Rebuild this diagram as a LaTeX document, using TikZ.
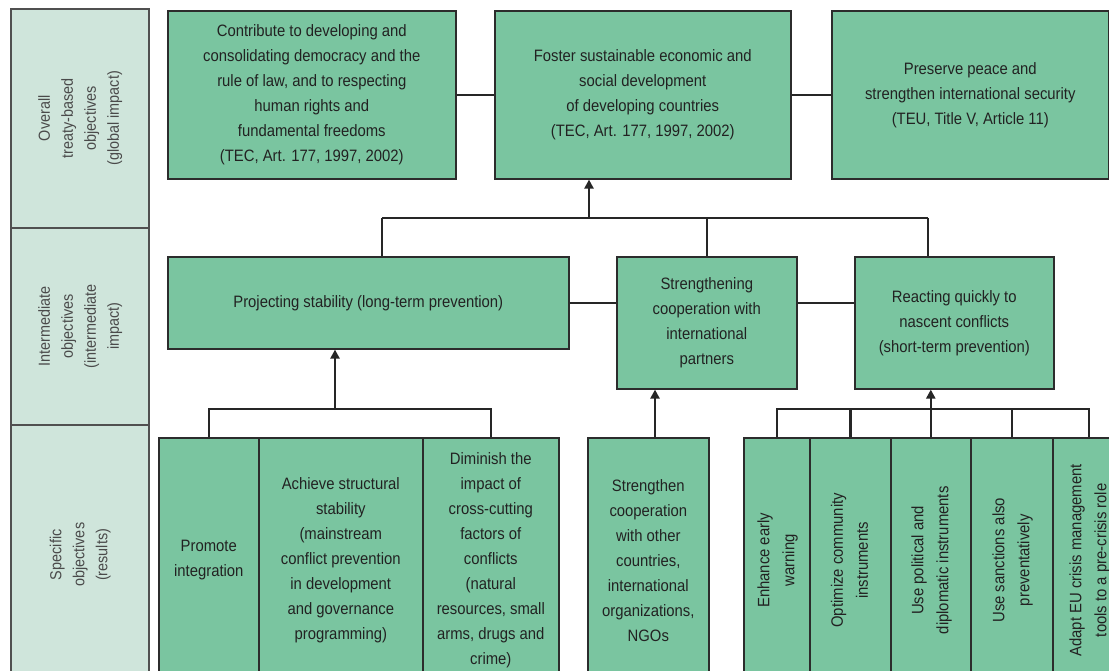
\documentclass[tikz,border=0pt]{standalone}
\usepackage{fontspec}
\setmainfont{Liberation Sans}[FakeStretch=0.9]
\usetikzlibrary{arrows.meta}
\definecolor{boxgreen}{HTML}{7AC5A0}
\definecolor{lightgreen}{HTML}{CFE5DB}
\definecolor{boxline}{HTML}{2C2C2C}
\definecolor{sideline}{HTML}{505050}
\definecolor{txt}{HTML}{222222}
\definecolor{sidetxt}{HTML}{4A4A4A}
\newcommand{\rotlines}[1]{\rotatebox{90}{\begin{tabular}{@{}c@{}}#1\end{tabular}}}
\begin{document}
\begin{tikzpicture}[x=1pt,y=-1pt,
  box/.style={draw=boxline, line width=1.6pt, fill=boxgreen, anchor=north west, inner sep=0pt, text=txt, font=\fontsize{16.5}{25}\selectfont, align=center},
  side/.style={draw=sideline, line width=1.6pt, fill=lightgreen, anchor=north west, inner sep=0pt, text=sidetxt, font=\fontsize{16}{23}\selectfont, align=center},
  conn/.style={line width=2.4pt, draw=black!85},
  arr/.style={conn, -{Triangle[length=9pt,width=9pt]}}]
\useasboundingbox (0,0) rectangle (1109,671);
\clip (0,0) rectangle (1109,671);
\fill[white] (0,0) rectangle (1109,671);

% left column
\node[side, minimum width=138, minimum height=219] (l1) at (10,8) {\rotlines{Overall\\treaty-based\\objectives\\(global impact)}};
\node[side, minimum width=138, minimum height=197] (l2) at (10,227) {\rotlines{Intermediate\\objectives\\(intermediate\\impact)}};
\node[side, minimum width=138, minimum height=260] (l3) at (10,424) {\rotlines{Specific\\objectives\\(results)}};

% top row
\node[box, minimum width=288, minimum height=168] (t1) at (167,10) {Contribute to developing and\\consolidating democracy and the\\rule of law, and to respecting\\human rights and\\fundamental freedoms\\(TEC, Art. 177, 1997, 2002)};
\node[box, minimum width=296, minimum height=168] (t2) at (494,10) {Foster sustainable economic and\\social development\\of developing countries\\(TEC, Art. 177, 1997, 2002)};
\node[box, minimum width=277, minimum height=168] (t3) at (831,10) {Preserve peace and\\strengthen international security\\(TEU, Title V, Article 11)};
\draw[conn] (t1.east) -- (t2.west);
\draw[conn] (t2.east) -- (t3.west);

% middle row
\node[box, minimum width=401, minimum height=92] (m1) at (167,256) {Projecting stability (long-term prevention)};
\node[box, minimum width=180, minimum height=132] (m2) at (616,256) {Strengthening\\cooperation with\\international\\partners};
\node[box, minimum width=199, minimum height=132] (m3) at (854,256) {Reacting quickly to\\nascent conflicts\\(short-term prevention)};
\draw[conn] (m1.east) -- (m1.east -| m2.west);
\draw[conn] (m2.east |- m1.east) -- (m3.west |- m1.east);

% top bus
\coordinate (tbl) at (382,218);
\coordinate (tbr) at (928,218);
\coordinate (tba) at (589,218);
\draw[conn] (tbl) -- (tbr);
\draw[conn] (tbl) -- (tbl |- m1.north);
\draw[conn] (m2.north |- tbl) -- (m2.north);
\draw[conn] (tbr) -- (tbr |- m3.north);
\draw[arr] (tba) -- (tba |- t2.south);

% bottom row
\node[box, minimum width=100, minimum height=245] (b1) at (158,437) {Promote\\integration};
\node[box, minimum width=164, minimum height=245] (b2) at (258,437) {Achieve structural\\stability\\(mainstream\\conflict prevention\\in development\\and governance\\programming)};
\node[box, minimum width=136, minimum height=245] (b3) at (422,437) {Diminish the\\impact of\\cross-cutting\\factors of\\conflicts\\(natural\\resources, small\\arms, drugs and\\crime)};
\node[box, minimum width=121, minimum height=245] (b4) at (587,437) {Strengthen\\cooperation\\with other\\countries,\\international\\organizations,\\NGOs};
\node[box, minimum width=66, minimum height=245] (b5) at (743,437) {\rotlines{Enhance early\\warning}};
\node[box, minimum width=81, minimum height=245] (b6) at (809,437) {\rotlines{Optimize community\\instruments}};
\node[box, minimum width=80, minimum height=245] (b7) at (890,437) {\rotlines{Use political and\\diplomatic instruments}};
\node[box, minimum width=82, minimum height=245] (b8) at (970,437) {\rotlines{Use sanctions also\\preventatively}};
\node[box, minimum width=72, minimum height=245] (b9) at (1052,437) {\rotlines{Adapt EU crisis management\\tools to a pre-crisis role}};

% bottom-left bus
\coordinate (lb) at (0,409);
\coordinate (la) at (335,409);
\draw[conn] (b1.north) -- (b1.north |- lb) -- (b3.north |- lb) -- (b3.north);
\draw[arr] (la) -- (la |- m1.south);

% NGO arrow
\coordinate (na) at (655,437);
\draw[arr] (na) -- (na |- m2.south);

% bottom-right bus
\draw[conn] (b5.north) -- (b5.north |- lb) -- (b9.north |- lb) -- (b9.north);
\draw[conn] (b6.north) -- (b6.north |- lb);
\draw[conn] (b8.north) -- (b8.north |- lb);
\draw[arr] (b7.north) -- (b7.north |- m3.south);
\end{tikzpicture}
\end{document}
